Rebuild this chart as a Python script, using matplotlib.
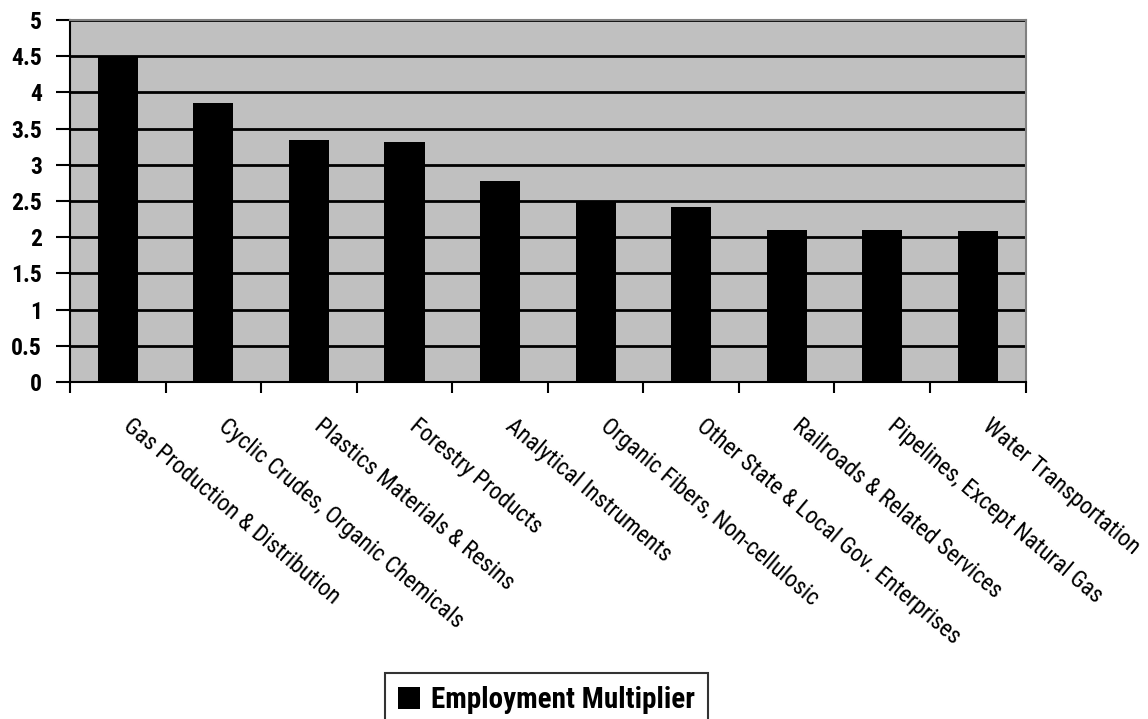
import matplotlib
matplotlib.use("Agg")
import matplotlib.pyplot as plt
from matplotlib.transforms import ScaledTranslation

categories = ["Gas Production & Distribution", "Cyclic Crudes, Organic Chemicals",
              "Plastics Materials & Resins", "Forestry Products", "Analytical Instruments",
              "Organic Fibers, Non-cellulosic", "Other State & Local Gov. Enterprises",
              "Railroads & Related Services", "Pipelines, Except Natural Gas",
              "Water Transportation"]
values = [4.50, 3.85, 3.34, 3.31, 2.77, 2.50, 2.42, 2.10, 2.10, 2.09]
yticks = [0, 0.5, 1, 1.5, 2, 2.5, 3, 3.5, 4, 4.5, 5]
ytick_labels = ["0", "0.5", "1", "1.5", "2", "2.5", "3", "3.5", "4", "4.5", "5"]
series_name = "Employment Multiplier"

plt.rcParams['font.family'] = ['Roboto Condensed', 'DejaVu Sans']

fig = plt.figure(figsize=(11.48, 7.19), dpi=100)
ax = fig.add_axes([70/1148, 1-382/719, (1025.6-70)/1148, (382-20)/719])
ax.set_facecolor("#C0C0C0")

x = list(range(len(categories)))
ax.bar(x, values, width=0.42, color="black", label=series_name, zorder=3)
ax.set_xlim(-0.5, len(categories)-0.5)
ax.set_ylim(0, 5)
ax.set_yticks(yticks)
ax.set_yticklabels(ytick_labels, fontsize=17, fontweight='bold')
ax.yaxis.grid(True, color="black", linewidth=2, zorder=1)
ax.set_axisbelow(True)

# x ticks at category boundaries, labels at category centers
ax.set_xticks([i - 0.5 for i in range(len(categories)+1)])
ax.set_xticklabels([])
ax.tick_params(axis='x', which='major', length=8, width=1.5, direction='out', color='black')
ax.tick_params(axis='y', length=10, width=1.5, direction='out', pad=10)

trans = ax.get_xaxis_transform() + ScaledTranslation(8/100, -41/100, fig.dpi_scale_trans)
for xi, name in zip(x, categories):
    ax.text(xi, 0, name, transform=trans, rotation=-40, rotation_mode='anchor',
            ha='left', va='center', fontsize=17, clip_on=False)

for s in ['top', 'right']:
    ax.spines[s].set_color('#808080')
    ax.spines[s].set_linewidth(1.5)
for s in ['left', 'bottom']:
    ax.spines[s].set_color('black')
    ax.spines[s].set_linewidth(1.5)

leg = fig.legend(loc='upper center', bbox_to_anchor=(546.5/1148, 1-673/719),
                 frameon=True, fancybox=False, edgecolor='black',
                 prop={'size': 21, 'weight': 'bold'}, handlelength=0.75, handleheight=0.75,
                 handletextpad=0.35, borderpad=0.45, borderaxespad=0)
leg.get_frame().set_linewidth(1.5)

fig.savefig("out.png", dpi=100)
